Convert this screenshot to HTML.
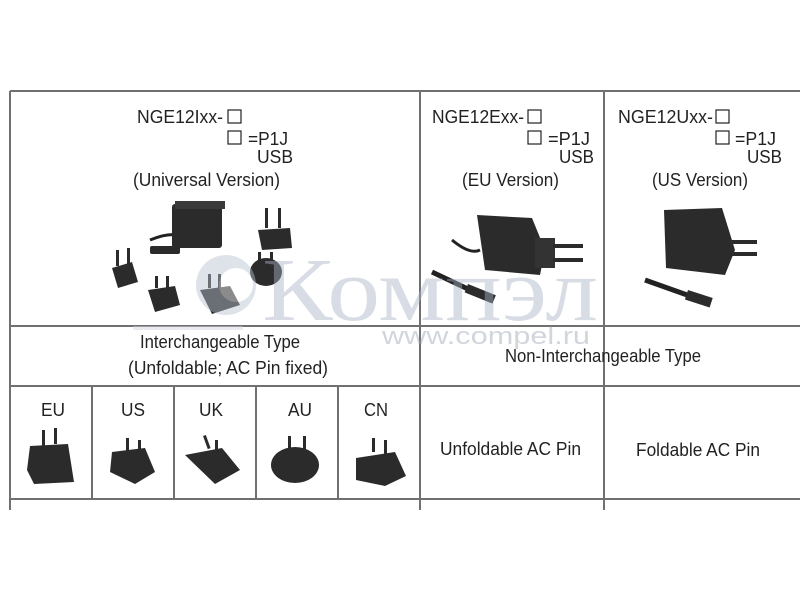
<!DOCTYPE html>
<html><head><meta charset="utf-8"><style>
html,body{margin:0;padding:0;background:#fff;}
svg{display:block;}
text{font-family:"Liberation Sans",sans-serif;fill:#222;}
</style></head><body>
<svg width="800" height="600" viewBox="0 0 800 600" xmlns="http://www.w3.org/2000/svg">
<g stroke="#707070" stroke-width="2" fill="none">
<line x1="10" y1="91" x2="800" y2="91"/>
<line x1="10" y1="91" x2="10" y2="510"/>
<line x1="420" y1="91" x2="420" y2="510"/>
<line x1="604" y1="91" x2="604" y2="386"/>
<line x1="10" y1="326" x2="800" y2="326"/>
<line x1="10" y1="386" x2="800" y2="386"/>
<line x1="10" y1="499" x2="800" y2="499"/>
<line x1="92" y1="386" x2="92" y2="499"/>
<line x1="174" y1="386" x2="174" y2="499"/>
<line x1="256" y1="386" x2="256" y2="499"/>
<line x1="338" y1="386" x2="338" y2="499"/>
<line x1="604" y1="386" x2="604" y2="510"/>
</g>
<g font-size="18">
<text x="137" y="123" textLength="86" lengthAdjust="spacingAndGlyphs">NGE12Ixx-</text>
<rect x="228" y="110" width="13" height="13" fill="none" stroke="#222" stroke-width="1.2"/>
<rect x="228" y="131" width="13" height="13" fill="none" stroke="#222" stroke-width="1.2"/>
<text x="248" y="145" textLength="40" lengthAdjust="spacingAndGlyphs">=P1J</text>
<text x="257" y="163" textLength="36" lengthAdjust="spacingAndGlyphs">USB</text>
<text x="133" y="186" textLength="147" lengthAdjust="spacingAndGlyphs">(Universal Version)</text>

<text x="432" y="123" textLength="92" lengthAdjust="spacingAndGlyphs">NGE12Exx-</text>
<rect x="528" y="110" width="13" height="13" fill="none" stroke="#222" stroke-width="1.2"/>
<rect x="528" y="131" width="13" height="13" fill="none" stroke="#222" stroke-width="1.2"/>
<text x="548" y="145" textLength="42" lengthAdjust="spacingAndGlyphs">=P1J</text>
<text x="559" y="163" textLength="35" lengthAdjust="spacingAndGlyphs">USB</text>
<text x="462" y="186" textLength="97" lengthAdjust="spacingAndGlyphs">(EU Version)</text>

<text x="618" y="123" textLength="95" lengthAdjust="spacingAndGlyphs">NGE12Uxx-</text>
<rect x="716" y="110" width="13" height="13" fill="none" stroke="#222" stroke-width="1.2"/>
<rect x="716" y="131" width="13" height="13" fill="none" stroke="#222" stroke-width="1.2"/>
<text x="735" y="145" textLength="41" lengthAdjust="spacingAndGlyphs">=P1J</text>
<text x="747" y="163" textLength="35" lengthAdjust="spacingAndGlyphs">USB</text>
<text x="652" y="186" textLength="96" lengthAdjust="spacingAndGlyphs">(US Version)</text>

<text x="140" y="348" textLength="160" lengthAdjust="spacingAndGlyphs">Interchangeable Type</text>
<text x="128" y="374" textLength="200" lengthAdjust="spacingAndGlyphs">(Unfoldable; AC Pin fixed)</text>
<text x="505" y="362" textLength="196" lengthAdjust="spacingAndGlyphs">Non-Interchangeable Type</text>
<text x="41" y="416" textLength="24" lengthAdjust="spacingAndGlyphs">EU</text>
<text x="121" y="416" textLength="24" lengthAdjust="spacingAndGlyphs">US</text>
<text x="199" y="416" textLength="24" lengthAdjust="spacingAndGlyphs">UK</text>
<text x="288" y="416" textLength="24" lengthAdjust="spacingAndGlyphs">AU</text>
<text x="364" y="416" textLength="24" lengthAdjust="spacingAndGlyphs">CN</text>
<text x="440" y="455" textLength="141" lengthAdjust="spacingAndGlyphs">Unfoldable AC Pin</text>
<text x="636" y="456" textLength="124" lengthAdjust="spacingAndGlyphs">Foldable AC Pin</text>
</g>
<g fill="#2b2b2b">
<path d="M150 240 Q170 232 180 236" stroke="#222" stroke-width="3" fill="none"/>
<rect x="172" y="204" width="50" height="44" rx="3"/>
<rect x="175" y="201" width="50" height="8" fill="#3a3a3a"/>
<rect x="150" y="246" width="30" height="8" rx="2"/>
<path d="M258 230 L290 228 L292 248 L262 250 Z"/><rect x="265" y="208" width="3" height="20"/><rect x="278" y="208" width="3" height="20"/>
<path d="M112 268 L132 262 L138 282 L118 288 Z"/><rect x="116" y="250" width="3" height="16"/><rect x="127" y="248" width="3" height="16"/>
<path d="M148 290 L175 286 L180 305 L155 312 Z"/><rect x="155" y="276" width="3" height="12"/><rect x="166" y="276" width="3" height="12"/>
<path d="M200 290 L230 286 L240 305 L212 314 Z"/><rect x="208" y="274" width="3" height="14"/><rect x="218" y="274" width="3" height="14"/>
<ellipse cx="266" cy="272" rx="16" ry="14"/><rect x="258" y="252" width="3" height="12"/><rect x="270" y="252" width="3" height="12"/>
</g>
<g fill="#2b2b2b">
<path d="M477 215 L532 218 L545 250 L540 275 L485 270 Z"/>
<rect x="535" y="238" width="20" height="30" fill="#333"/>
<rect x="553" y="244" width="30" height="4"/><rect x="553" y="258" width="30" height="4"/>
<path d="M452 240 Q470 255 480 250" stroke="#222" stroke-width="3" fill="none"/>
<path d="M432 272 L470 290" stroke="#222" stroke-width="5"/>
<rect x="468" y="284" width="30" height="9" transform="rotate(22 468 284)"/>
</g>
<g fill="#2b2b2b">
<path d="M664 210 L722 208 L735 250 L725 275 L666 268 Z"/>
<rect x="727" y="240" width="30" height="4"/><rect x="727" y="252" width="30" height="4"/>
<path d="M645 280 L690 296" stroke="#222" stroke-width="5"/>
<rect x="688" y="290" width="26" height="10" transform="rotate(18 688 290)"/>
</g>
<g fill="#2b2b2b">
<rect x="42" y="430" width="3" height="16"/><rect x="54" y="428" width="3" height="16"/>
<path d="M30 446 L68 444 L74 482 L34 484 L27 470 Z"/>
<rect x="126" y="438" width="3" height="14"/><rect x="138" y="440" width="3" height="14"/>
<path d="M112 452 L145 448 L155 472 L135 484 L110 472 Z"/>
<rect x="203" y="436" width="3" height="14" transform="rotate(-20 203 436)"/><rect x="215" y="440" width="3" height="14"/>
<path d="M185 455 L222 448 L240 470 L215 484 Z"/>
<rect x="288" y="436" width="3" height="14"/><rect x="303" y="436" width="3" height="14"/>
<ellipse cx="295" cy="465" rx="24" ry="18"/>
<rect x="372" y="438" width="3" height="14"/><rect x="384" y="440" width="3" height="14"/>
<path d="M356 458 L395 452 L406 476 L385 486 L356 480 Z"/>
</g>
<g opacity="0.45">
<circle cx="226" cy="285" r="30" fill="#b8c2d2"/>
<circle cx="236" cy="285" r="17" fill="#fff"/>
<text x="262" y="320" font-size="90" style="fill:#a9b4c6;font-family:'Liberation Serif',serif" textLength="336" lengthAdjust="spacingAndGlyphs">Компэл</text>
<rect x="133" y="326" width="110" height="4" fill="#cfd4de"/>
<text x="382" y="344" font-size="24" style="fill:#9aa5b6" textLength="208" lengthAdjust="spacingAndGlyphs">www.compel.ru</text>
</g>
</svg>
</body></html>
